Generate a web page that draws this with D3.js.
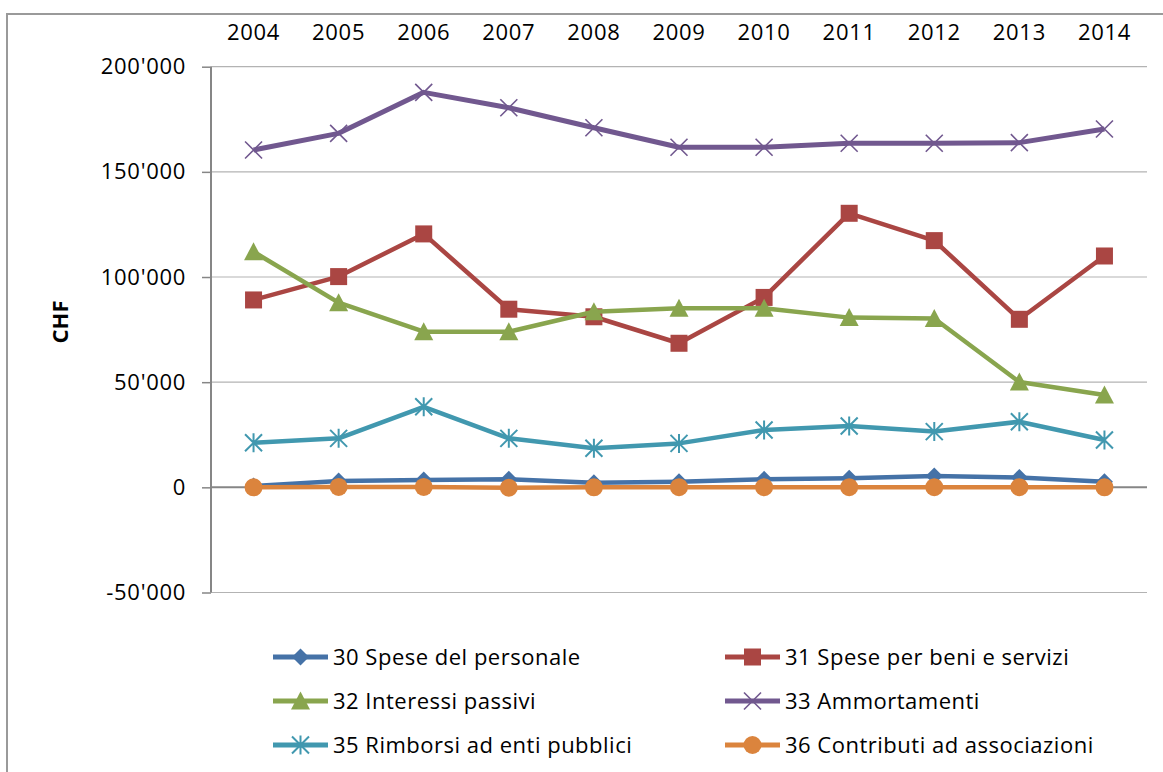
<!DOCTYPE html>
<html>
<head>
<meta charset="utf-8">
<script src="https://cdn.jsdelivr.net/npm/d3@7/dist/d3.min.js"></script>
<style>
  html, body { margin: 0; padding: 0; background: #fff; }
  svg { display: block; }
  text { font-family: "Open Sans", "Noto Sans", sans-serif; fill: #000; }
</style>
</head>
<body>
<svg id="chart" width="1163" height="772"></svg>
<script>
// Annual expenses by account group, CHF
const years = ["2004","2005","2006","2007","2008","2009","2010","2011","2012","2013","2014"];

const spesePersonale   = [600, 3000, 3500, 3800, 2200, 2700, 3800, 4300, 5400, 4700, 2700];
const speseBeniServizi = [89100, 100200, 120500, 84700, 81100, 68500, 90300, 130300, 117300, 79900, 110000];
const interessiPassivi = [112000, 87800, 74000, 74000, 83500, 85100, 85100, 80700, 80300, 50100, 43900];
const ammortamenti     = [160400, 168300, 187800, 180500, 171000, 161700, 161700, 163600, 163600, 163900, 170400];
const rimborsiEnti     = [21200, 23300, 38300, 23300, 18600, 20900, 27300, 29200, 26500, 31200, 22500];
const contributiAssoc  = [0, 200, 200, -200, 0, 100, 100, 100, 100, 100, 0];

const yTicks = [-50000, 0, 50000, 100000, 150000, 200000];

const series = [
  { name: "30 Spese del personale",        values: spesePersonale,   color: "#4572A7", marker: "diamond" },
  { name: "31 Spese per beni e servizi",   values: speseBeniServizi, color: "#AA4643", marker: "square" },
  { name: "32 Interessi passivi",          values: interessiPassivi, color: "#89A54E", marker: "triangle" },
  { name: "33 Ammortamenti",               values: ammortamenti,     color: "#71588F", marker: "x" },
  { name: "35 Rimborsi ad enti pubblici",  values: rimborsiEnti,     color: "#4198AF", marker: "star" },
  { name: "36 Contributi ad associazioni", values: contributiAssoc,  color: "#DB843D", marker: "circle" }
];

const svg = d3.select("#chart");

// Outer frame
svg.append("path")
  .attr("d", "M7,775 L7,14 L1166,14")
  .attr("fill", "none").attr("stroke", "#9a9a9a").attr("stroke-width", 2);

const plot = { left: 211, right: 1147, top: 66.7, bottom: 592.5 };

const x = d3.scaleBand().domain(years).range([plot.left, plot.right]);
const xc = d => x(d) + x.bandwidth() / 2;
const y = d3.scaleLinear().domain([-50000, 200000]).range([plot.bottom, plot.top]);

// Swiss-style thousands separator with a plain hyphen for negatives
const fmt = v => (v < 0 ? "-" : "") + d3.format(",")(Math.abs(v)).replace(/,/g, "'");

// Horizontal gridlines
svg.append("g")
  .selectAll("line")
  .data(yTicks.filter(t => t !== 0))
  .join("line")
  .attr("x1", plot.left).attr("x2", plot.right)
  .attr("y1", d => y(d)).attr("y2", d => y(d))
  .attr("stroke", "#b3b3b3").attr("stroke-width", 1.2);

// Value axis
const yAxis = svg.append("g")
  .attr("transform", `translate(${plot.left},0)`)
  .call(d3.axisLeft(y).tickValues(yTicks).tickFormat(fmt).tickSize(9).tickPadding(16));
yAxis.select(".domain").attr("stroke", "#868686").attr("stroke-width", 2)
  .attr("d", `M0,${plot.top}V${plot.bottom}`);
yAxis.selectAll(".tick line").attr("stroke", "#868686").attr("stroke-width", 1.5);
yAxis.selectAll(".tick text")
  .style("font-family", "'Open Sans', sans-serif").style("font-size", "22px")
  .style("letter-spacing", "0.7px").attr("fill", "#000");

// Zero line
svg.append("line")
  .attr("x1", plot.left).attr("x2", plot.right)
  .attr("y1", y(0)).attr("y2", y(0))
  .attr("stroke", "#868686").attr("stroke-width", 2);

// Category labels along the top
svg.append("g")
  .selectAll("text")
  .data(years)
  .join("text")
  .attr("x", d => xc(d)).attr("y", 40)
  .attr("text-anchor", "middle")
  .style("font-size", "22px").style("letter-spacing", "0.7px")
  .text(d => d);

// Axis title
svg.append("text")
  .attr("transform", `translate(68,322) rotate(-90)`)
  .attr("text-anchor", "middle")
  .style("font-size", "22px").style("font-weight", "bold")
  .text("CHF");

// Marker drawing
function drawMarker(g, type, color, cx, cy) {
  const s = 8.5;
  if (type === "diamond") {
    g.append("path").attr("d", `M${cx},${cy - s} L${cx + s},${cy} L${cx},${cy + s} L${cx - s},${cy} Z`).attr("fill", color);
  } else if (type === "square") {
    g.append("rect").attr("x", cx - s).attr("y", cy - s).attr("width", 2 * s).attr("height", 2 * s).attr("fill", color);
  } else if (type === "triangle") {
    g.append("path").attr("d", `M${cx},${cy - s - 1} L${cx + s + 1},${cy + s} L${cx - s - 1},${cy + s} Z`).attr("fill", color);
  } else if (type === "circle") {
    g.append("circle").attr("cx", cx).attr("cy", cy).attr("r", s + 0.5).attr("fill", color);
  } else if (type === "x" || type === "star") {
    const d = s;
    let p = `M${cx - d},${cy - d} L${cx + d},${cy + d} M${cx - d},${cy + d} L${cx + d},${cy - d}`;
    if (type === "star") p += ` M${cx},${cy - d - 1} L${cx},${cy + d + 1}`;
    g.append("path").attr("d", p).attr("fill", "none").attr("stroke", color).attr("stroke-width", type === "x" ? 1.6 : 2);
  }
}

// Series lines and markers
const line = d3.line().x((d, i) => xc(years[i])).y(d => y(d));
series.forEach(s => {
  const g = svg.append("g");
  g.append("path")
    .datum(s.values)
    .attr("d", line)
    .attr("fill", "none")
    .attr("stroke", s.color)
    .attr("stroke-width", s.marker === "x" ? 5 : 4.5)
    .attr("stroke-linejoin", "round");
  s.values.forEach((v, i) => drawMarker(g, s.marker, s.color, xc(years[i]), y(v)));
});

// Legend, two columns
const legendCols = [273, 725];
const legendRows = [657, 701, 745];
series.forEach((s, i) => {
  const lx = legendCols[i % 2];
  const ly = legendRows[Math.floor(i / 2)];
  const g = svg.append("g");
  g.append("line")
    .attr("x1", lx).attr("x2", lx + 55)
    .attr("y1", ly).attr("y2", ly)
    .attr("stroke", s.color).attr("stroke-width", 5);
  drawMarker(g, s.marker, s.color, lx + 27.5, ly);
  g.append("text")
    .attr("x", lx + 60).attr("y", ly)
    .attr("dy", "0.35em")
    .style("font-size", "22px").style("letter-spacing", "0.5px")
    .text(s.name);
});
</script>
</body>
</html>
